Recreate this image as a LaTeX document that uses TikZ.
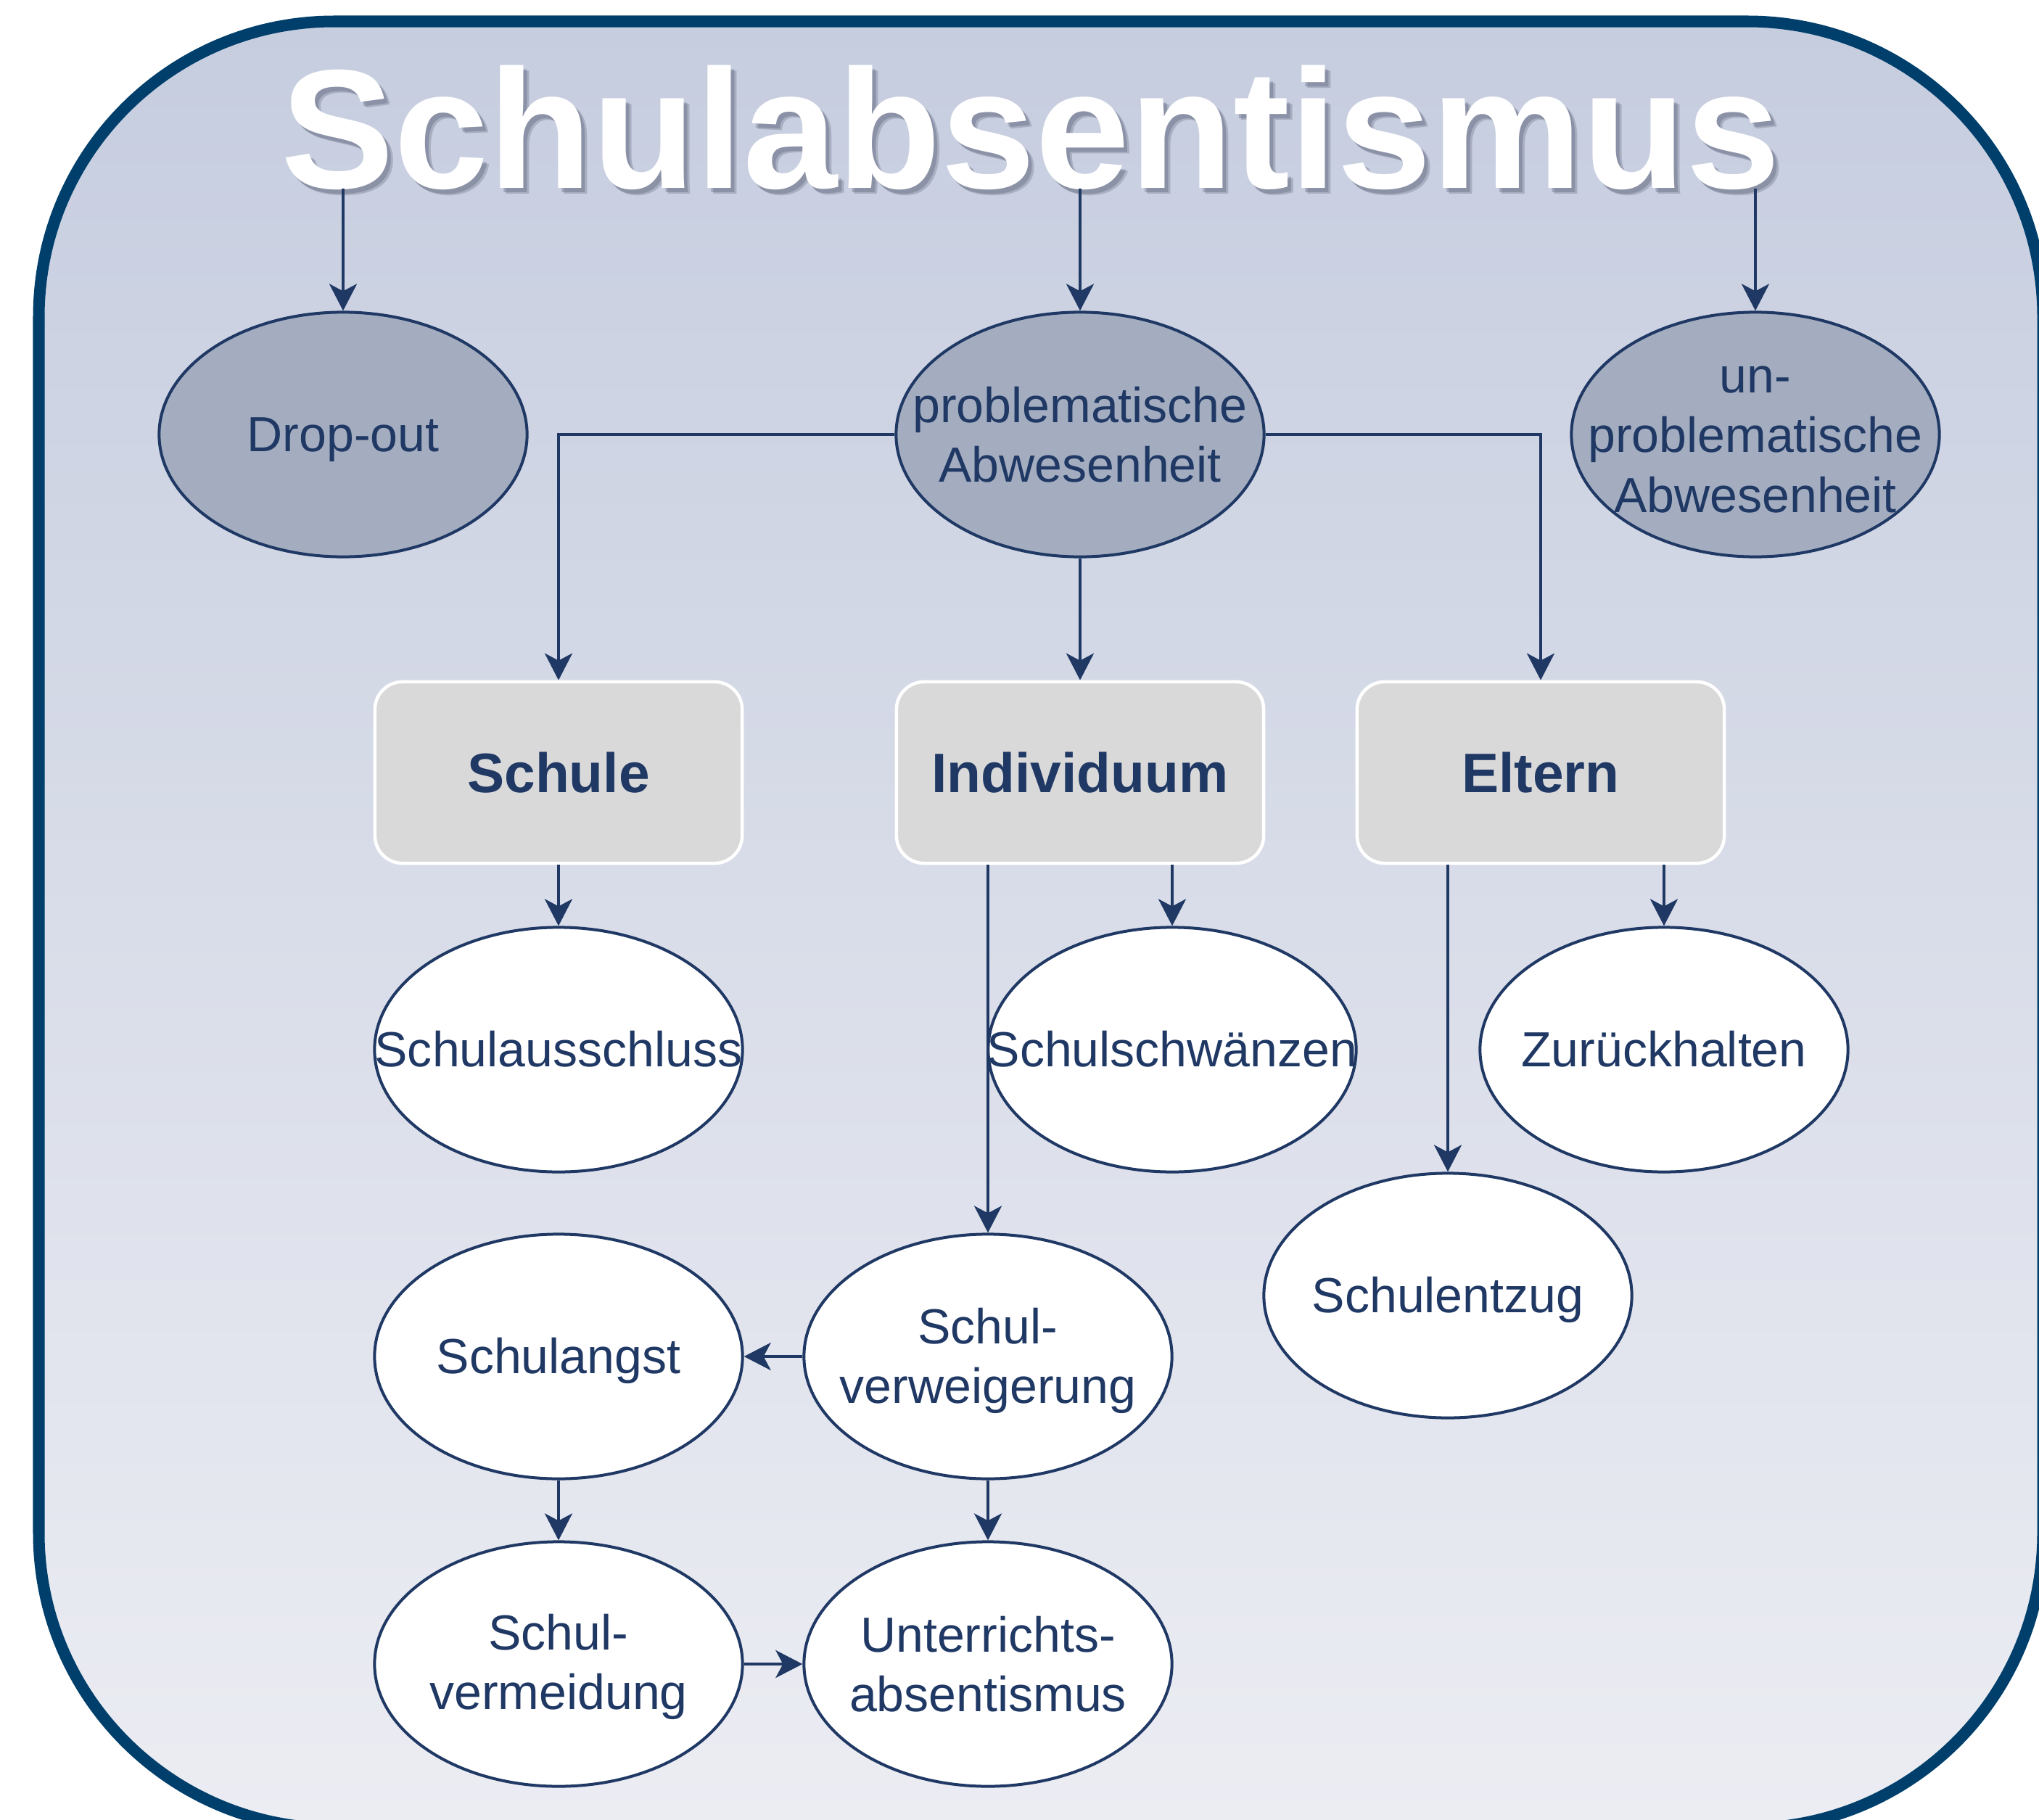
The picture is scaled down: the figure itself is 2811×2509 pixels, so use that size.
\documentclass[tikz,border=0pt]{standalone}
\usepackage{fontspec}
\setmainfont{Liberation Sans}
\usetikzlibrary{arrows.meta,shapes.geometric}
\definecolor{navy}{HTML}{1F3864}
\definecolor{framec}{HTML}{003F6B}
\definecolor{bgtop}{HTML}{C6CDDF}
\definecolor{bgbot}{HTML}{ECEDF3}
\definecolor{darkell}{HTML}{A4ADC0}
\definecolor{boxgray}{HTML}{D9D9D9}
\definecolor{shadowc}{HTML}{4A5068}
\begin{document}
\begin{tikzpicture}[x=0.01cm,y=-0.01cm,
  ell/.style={ellipse, draw=navy, line width=0.04cm, fill=white,
    minimum width=5.07cm, minimum height=3.37cm, inner sep=0pt},
  dell/.style={ell, fill=darkell},
  lbl/.style={text=navy, font=\fontsize{19.35pt}{23.5pt}\selectfont,
    align=center, inner sep=0pt},
  one/.style={lbl, anchor=base},
  cat/.style={rectangle, rounded corners=0.38cm, draw=white, line width=0.045cm,
    fill=boxgray, minimum width=5.06cm, minimum height=2.50cm, inner sep=0pt,
    text=navy, font=\fontsize{21.8pt}{26pt}\selectfont\bfseries},
  conn/.style={draw=navy, line width=0.04cm,
    -{Stealth[length=0.37cm,width=0.38cm,inset=0.1cm]}},
  titlefont/.style={font=\fontsize{66.5pt}{70pt}\selectfont\bfseries, inner sep=0pt}
]
\useasboundingbox (0,0) rectangle (2811,2509);
\begin{scope}
  \clip (0,0) rectangle (2811,2509);
  \draw[line width=0.16cm, draw=framec, top color=bgtop, bottom color=bgbot,
    rounded corners=4.07cm] (53.5,29.5) rectangle (2816.5,2520.5);
\end{scope}

% title with shadow
\foreach \d/\o in {5/0.3,8/0.25}
  \node[titlefont, text=shadowc, opacity=\o, anchor=base] (sh\d) at (1421+\d,260+\d) {Schulabsentismus};
\node[titlefont, text=white, anchor=base] (title) at (1421,260) {Schulabsentismus};

% top ellipses
\node[dell] (dro) at (473,599) {};
\node[dell] (pa) at (1489,599) {};
\node[dell] (up) at (2420,599) {};
\node[one] (dro-t) at ([yshift=-0.235cm]dro.center) {Drop-out};
\node[lbl] (pa-t) at (pa) {problematische\\Abwesenheit};
\node[lbl] (up-t) at ([yshift=-0.07cm]up.center) {un-\\problematische\\Abwesenheit};

% category boxes
\node[cat] (sch) at (770,1065) {Schule};
\node[cat] (ind) at (1489,1065) {Individuum};
\node[cat] (elt) at (2124,1065) {Eltern};

% lower ellipses
\node[ell] (sa) at (770,1447) {};
\node[ell] (ssw) at (1616,1447) {};
\node[ell] (zu) at (2294,1447) {};
\node[ell] (se) at (1996,1786) {};
\node[ell] (sang) at (770,1870) {};
\node[ell] (sv) at (1362,1870) {};
\node[ell] (svm) at (770,2294) {};
\node[ell] (ua) at (1362,2294) {};
\node[one] (sa-t) at ([yshift=-0.23cm]sa.center) {Schulausschluss};
\node[one] (ssw-t) at ([yshift=-0.23cm]ssw.center) {Schulschwänzen};
\node[one] (zu-t) at ([yshift=-0.23cm]zu.center) {Zurückhalten};
\node[one] (se-t) at ([yshift=-0.23cm]se.center) {Schulentzug};
\node[one] (sang-t) at ([yshift=-0.23cm]sang.center) {Schulangst};
\node[lbl] (sv-t) at ([yshift=-0.06cm]sv.center) {Schul-\\verweigerung};
\node[lbl] (svm-t) at ([yshift=-0.04cm]svm.center) {Schul-\\vermeidung};
\node[lbl] (ua-t) at (ua) {Unterrichts-\\absentismus};

% connectors
\draw[conn] (dro.north |- title.base) -- (dro.north);
\draw[conn] (pa.north |- title.base) -- (pa.north);
\draw[conn] (up.north |- title.base) -- (up.north);
\draw[conn] (pa.west) -| (sch.north);
\draw[conn] (pa.east) -| (elt.north);
\draw[conn] (pa.south) -- (ind.north);
\draw[conn] (sch.south) -- (sa.north);
\draw[conn] (ind.south -| ssw.north) -- (ssw.north);
\draw[conn] (ind.south -| sv.north) -- (sv.north);
\draw[conn] (elt.south -| zu.north) -- (zu.north);
\draw[conn] (elt.south -| se.north) -- (se.north);
\draw[conn] (sv.west) -- (sang.east);
\draw[conn] (sv.south) -- (ua.north);
\draw[conn] (sang.south) -- (svm.north);
\draw[conn] (svm.east) -- (ua.west);
\end{tikzpicture}
\end{document}
